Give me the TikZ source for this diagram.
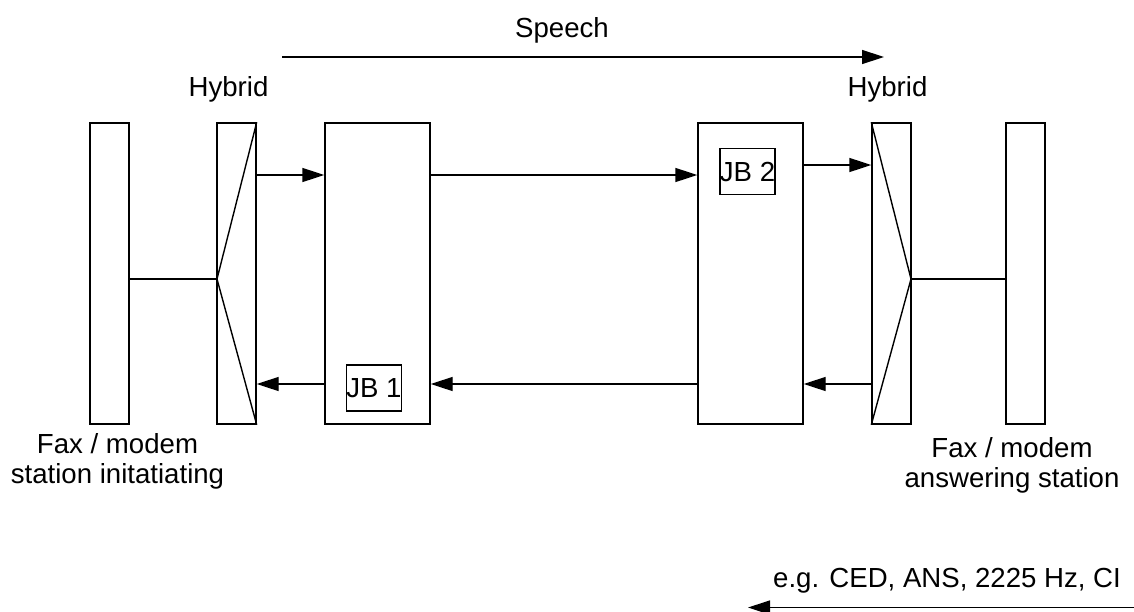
\documentclass[tikz,border=0pt]{standalone}
\usepackage{fontspec}
\setmainfont{Liberation Sans}
\usetikzlibrary{arrows.meta}
\tikzset{
	unit/.style={draw, line width=0.7pt, minimum width=19.5pt, minimum height=150.5pt, inner sep=0pt},
	jitter/.style={unit, minimum width=52.5pt},
	jb/.style={draw, line width=0.7pt, minimum size=23pt, inner sep=0pt, font=\fontsize{13.8}{15}\selectfont},
	arr/.style={line width=0.7pt, -{Triangle[length=11pt,width=7pt]}},
	lbl/.style={inner sep=0pt, font=\fontsize{13.8}{15}\selectfont}
}
\begin{document}
\begin{tikzpicture}[x=0.5pt, y=-0.5pt, line width=0.7pt]
		\useasboundingbox (0,0) rectangle (1134,611);
		\node[unit] (stA) at (109.5,273.5) {};
		\node[unit] (hybA) at (236.5,273.5) {};
		\node[jitter] (jitA) at (377.5,273.5) {};
		\node[jitter] (jitB) at (750.5,273.5) {};
		\node[unit] (hybB) at (891.5,273.5) {};
		\node[unit] (stB) at (1025.5,273.5) {};
		\node[jb] (jb1) at (374,388) {JB 1};
		\node[jb] (jb2) at (747.5,171.5) {JB 2};
		\coordinate (hA) at (217,279);
		\coordinate (hB) at (911,279);
		\draw (hybA.north east) -- (hA) -- (hybA.south east);
		\draw (hybB.north west) -- (hB) -- (hybB.south west);
		\draw (stA.east |- hA) -- (hA);
		\draw (hB) -- (stB.west |- hB);
		\draw[arr] (hybA.east |- 0,175) -- (jitA.west |- 0,175);
		\draw[arr] (jitA.east |- 0,175) -- (jitB.west |- 0,175);
		\draw[arr] (jitB.east |- 0,165) -- (hybB.west |- 0,165);
		\draw[arr] (hybB.west |- 0,384) -- (jitB.east |- 0,384);
		\draw[arr] (jitB.west |- 0,384) -- (jitA.east |- 0,384);
		\draw[arr] (jitA.west |- 0,384) -- (hybA.east |- 0,384);
		\coordinate (spS) at (282,57);
		\coordinate (spE) at (884,57);
		\draw[arr] (spS) -- (spE);
		\node[lbl, anchor=base] (speech) at (562,37) {Speech};
		\node[lbl, anchor=base] (hlA) at (228.5,96.5) {Hybrid};
		\node[lbl, anchor=base] (hlB) at (887.5,96.5) {Hybrid};
		\node[lbl, anchor=north, align=center] (faxA) at (117.5,433) {Fax / modem\\station initatiating};
		\node[lbl, anchor=north, align=center] (faxB) at (1012,437) {Fax / modem\\answering station};
		\node[lbl, anchor=base] (tones) at (947,587) {e.g. CED, ANS, 2225 Hz, CI};
		\coordinate (tnS) at (1134,607.5);
		\coordinate (tnE) at (748,607.5);
		\draw[arr] (tnS) -- (tnE);
\end{tikzpicture}
\end{document}
